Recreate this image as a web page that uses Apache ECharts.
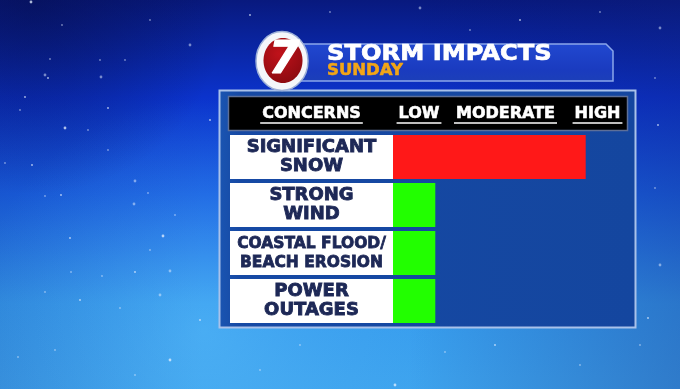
<!DOCTYPE html>
<html>
<head>
<meta charset="utf-8">
<script src="https://cdn.jsdelivr.net/npm/echarts@6/dist/echarts.min.js"></script>
<style>
html,body{margin:0;padding:0;background:#0d2a9a;}
#chart{width:680px;height:389px;}
</style>
</head>
<body>
<div id="chart"></div>
<script>
// ---- data ----
const titleText = 'STORM IMPACTS';
const subtitleText = 'SUNDAY';
const headerLabels = ['CONCERNS', 'LOW', 'MODERATE', 'HIGH'];
const concerns = ['SIGNIFICANT\nSNOW', 'STRONG\nWIND', 'COASTAL FLOOD/\nBEACH EROSION', 'POWER\nOUTAGES'];
const impactValues = [82, 18, 18, 18];
const impactColors = ['#ff1818', '#22ff00', '#22ff00', '#22ff00'];

// decorative snow specks in the backdrop (not data)
const snowDecor = [
  [31, 2], [62, 25], [50, 59], [48, 78], [45, 75], [100, 60], [108, 108], [125, 60], [101, 77], [25, 97],
  [20, 110], [88, 130], [65, 128], [108, 150], [5, 163], [32, 165], [135, 181], [45, 196], [61, 195], [148, 193],
  [134, 204], [70, 238], [175, 215], [150, 250], [163, 236], [71, 272], [102, 276], [135, 272], [170, 271], [45, 292],
  [80, 300], [120, 308], [160, 295], [200, 320], [18, 357], [55, 350], [170, 360], [300, 345], [445, 352], [495, 345],
  [660, 28], [655, 78], [658, 125], [655, 188], [660, 265], [648, 318], [640, 345], [580, 365], [395, 385], [260, 370],
  [135, 375], [210, 120], [190, 45], [150, 20], [250, 15], [330, 12], [420, 8], [520, 20], [600, 12], [470, 30]
];

// ---- helpers ----
const FONT = '"DejaVu Sans", "Liberation Sans", Arial, sans-serif';
const mctx = document.createElement('canvas').getContext('2d');
function textWidth(t, size) {
  mctx.font = 'bold ' + size + 'px ' + FONT;
  return mctx.measureText(t).width;
}

const chart = echarts.init(document.getElementById('chart'));

// header label centres (layout)
const headerX = [311.5, 419, 505.5, 597.5];
const headerY = 114;
const headerEls = [];
headerLabels.forEach((t, i) => {
  const w = textWidth(t, 16);
  headerEls.push({
    type: 'text', z: 20,
    style: { text: t, x: headerX[i], y: headerY, fill: '#ffffff', font: 'bold 16px ' + FONT, textAlign: 'center', textVerticalAlign: 'middle',
      stroke: '#ffffff', lineWidth: 0.6 }
  });
  headerEls.push({
    type: 'line', z: 20,
    shape: { x1: headerX[i] - w / 2 - 2, y1: 123, x2: headerX[i] + w / 2 + 2, y2: 123 },
    style: { stroke: '#ffffff', lineWidth: 1.5 }
  });
});

const snowEls = snowDecor.map((p, i) => ({
  type: 'circle', z: -90, silent: true,
  shape: { cx: p[0], cy: p[1], r: (i % 4 === 0) ? 1.4 : 0.9 },
  style: { fill: 'rgba(230,240,255,' + ((i % 3 === 0) ? 0.75 : 0.5) + ')' }
}));

const option = {
  animation: false,
  backgroundColor: '#0d2a9a',
  grid: { left: 393, right: 52, top: 133, height: 192, containLabel: false },
  xAxis: { type: 'value', min: 0, max: 100, show: false, splitLine: { show: false } },
  yAxis: {
    type: 'category', inverse: true, data: concerns, z: 10,
    axisLine: { show: false }, axisTick: { show: false }, splitLine: { show: false },
    axisLabel: {
      interval: 0, margin: 0, align: 'right', verticalAlign: 'middle',
      backgroundColor: '#ffffff', width: 163, padding: [3, 0, 3, 0],
      formatter: function (v) {
        const lines = v.split('\n');
        const st = lines.some(l => l.length > 12) ? 'b' : 'a';
        return lines.map(l => '{' + st + '|' + l + '}').join('\n');
      },
      rich: {
        a: { fontFamily: FONT, fontWeight: 'bold', fontSize: 18, lineHeight: 19, color: '#1d2856', align: 'center',
             textBorderColor: '#1d2856', textBorderWidth: 0.9 },
        b: { fontFamily: FONT, fontWeight: 'bold', fontSize: 15.5, lineHeight: 19, color: '#1d2856', align: 'center',
             textBorderColor: '#1d2856', textBorderWidth: 0.8 }
      }
    }
  },
  series: [{
    type: 'bar', barWidth: 44, silent: true, z: 5,
    data: impactValues.map((v, i) => ({ value: v, itemStyle: { color: impactColors[i] } }))
  }],
  graphic: { elements: [
    // background
    { type: 'rect', z: -100, shape: { x: 0, y: 0, width: 680, height: 389 },
      style: { fill: { type: 'linear', x: 0, y: 0, x2: 0, y2: 1, colorStops: [
        { offset: 0, color: '#08197e' }, { offset: 0.25, color: '#0b33cc' },
        { offset: 0.5, color: '#1a62e2' }, { offset: 0.78, color: '#369cee' }, { offset: 1, color: '#3ea4ee' }] } } },
    { type: 'rect', z: -99, shape: { x: 0, y: 0, width: 680, height: 389 },
      style: { fill: { type: 'linear', x: 0, y: 0, x2: 1, y2: 0, colorStops: [
        { offset: 0, color: 'rgba(10,20,110,0.15)' }, { offset: 0.3, color: 'rgba(10,20,110,0)' },
        { offset: 0.6, color: 'rgba(10,20,110,0)' }, { offset: 1, color: 'rgba(15,30,120,0.3)' }] } } },
    { type: 'rect', z: -98, shape: { x: 0, y: 0, width: 680, height: 389 },
      style: { fill: { type: 'radial', x: 0.3, y: 0.85, r: 0.6, colorStops: [
        { offset: 0, color: 'rgba(110,205,255,0.3)' }, { offset: 1, color: 'rgba(80,170,245,0)' }] } } },
    { type: 'rect', z: -97, shape: { x: 0, y: 0, width: 680, height: 389 },
      style: { fill: { type: 'radial', x: 0.05, y: 0.0, r: 0.5, colorStops: [
        { offset: 0, color: 'rgba(5,12,70,0.5)' }, { offset: 1, color: 'rgba(5,12,70,0)' }] } } },
    // panel
    { type: 'rect', z: -50, shape: { x: 219.5, y: 90.5, width: 416, height: 237 },
      style: { fill: { type: 'linear', x: 0, y: 0, x2: 1, y2: 0, colorStops: [
        { offset: 0, color: '#1a55b2' }, { offset: 0.05, color: '#1649a4' }, { offset: 1, color: '#14469f' }] },
        stroke: '#a9c2ea', lineWidth: 2 } },
    { type: 'rect', z: -40, shape: { x: 228.5, y: 96.5, width: 399, height: 34 },
      style: { fill: '#000000', stroke: '#5d6f98', lineWidth: 1.5 } },
    // title banner
    { type: 'polygon', z: -30, shape: { points: [[300, 44], [606, 44], [613, 51], [613, 81], [300, 81]] },
      style: { fill: { type: 'linear', x: 0, y: 0, x2: 0, y2: 1, colorStops: [
        { offset: 0, color: '#2148d0' }, { offset: 0.7, color: '#1a3bbf' }, { offset: 1, color: '#1c3fb8' }] },
        stroke: '#8aa6ea', lineWidth: 1.5 } },
    { type: 'text', z: 30, scaleX: 1.1, originX: 327, originY: 54.5,
      style: { text: titleText, x: 327, y: 54.5, fill: '#ffffff', font: 'bold 22px ' + FONT, textAlign: 'left', textVerticalAlign: 'middle',
        stroke: '#ffffff', lineWidth: 0.7 } },
    { type: 'text', z: 30, scaleX: 1.1, originX: 327, originY: 71.5,
      style: { text: subtitleText, x: 327, y: 71.5, fill: '#f2a516', font: 'bold 15px ' + FONT, textAlign: 'left', textVerticalAlign: 'middle',
        stroke: '#f2a516', lineWidth: 0.5 } },
    // logo
    { type: 'ellipse', z: 31, shape: { cx: 282, cy: 61, rx: 26, ry: 29.5 },
      style: { fill: '#f4f6fa', stroke: '#9db0d8', lineWidth: 1.5 } },
    { type: 'ellipse', z: 32, shape: { cx: 283, cy: 60.5, rx: 19.5, ry: 22.5 },
      style: { fill: { type: 'radial', x: 0.4, y: 0.35, r: 0.8, colorStops: [
        { offset: 0, color: '#c0121a' }, { offset: 1, color: '#8a0a10' }] } } },
    { type: 'text', z: 33,
      style: { text: '7', x: 284, y: 62, fill: '#ffffff', font: 'italic bold 44px ' + FONT, textAlign: 'center', textVerticalAlign: 'middle',
        stroke: '#ffffff', lineWidth: 1.2 } }
  ].concat(snowEls, headerEls) }
};
chart.setOption(option);
</script>
</body>
</html>
